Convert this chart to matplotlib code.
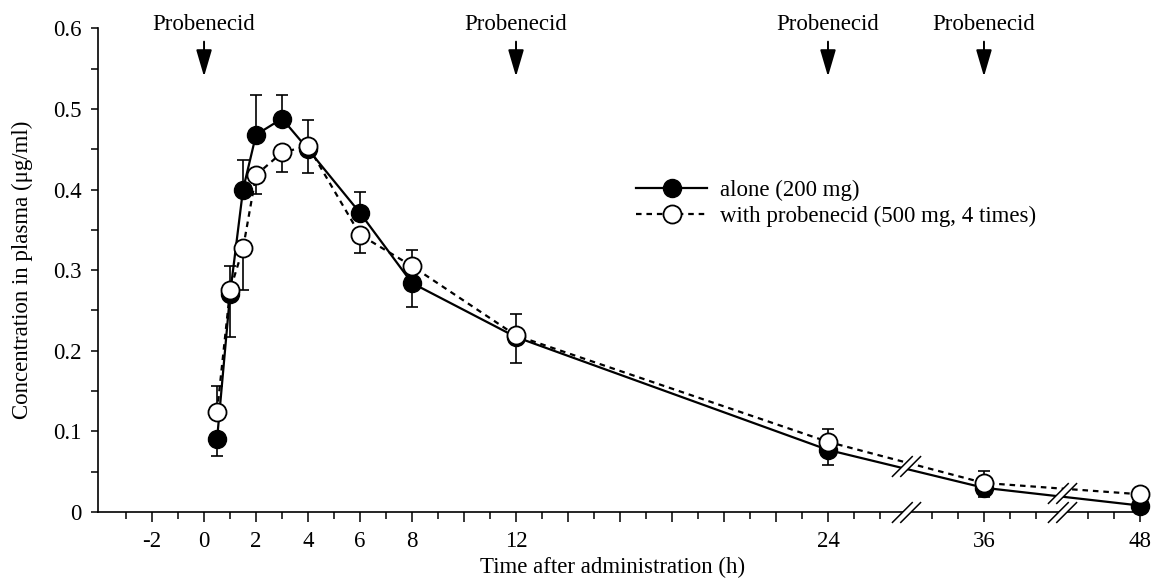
import numpy as np
import matplotlib
matplotlib.use("Agg")
import matplotlib.pyplot as plt
from matplotlib.path import Path

plt.rcParams['font.family'] = ['Liberation Serif', 'DejaVu Serif']
plt.rcParams['font.size'] = 16.5

# Data (hours after administration, concentration in ug/ml)
times = [0.5, 1, 1.5, 2, 3, 4, 6, 8, 12, 24, 36, 48]
alone = [0.090, 0.270, 0.400, 0.468, 0.488, 0.450, 0.371, 0.284, 0.217, 0.077, 0.030, 0.008]
alone_err_lo = [0.021, 0.053, 0, 0, 0, 0.030, 0, 0.030, 0.032, 0.019, 0.012, 0]
alone_err_hi = [0, 0, 0.037, 0.049, 0.029, 0, 0.026, 0, 0, 0, 0, 0]
probe = [0.124, 0.275, 0.327, 0.418, 0.446, 0.454, 0.344, 0.305, 0.219, 0.087, 0.036, 0.022]
probe_err_lo = [0, 0, 0.051, 0.023, 0.024, 0, 0.023, 0, 0, 0, 0, 0]
probe_err_hi = [0.032, 0.030, 0, 0, 0, 0.032, 0, 0.020, 0.026, 0.016, 0.015, 0]
dose_times = [0, 12, 24, 36]
labeled_ticks = [-2, 0, 2, 4, 6, 8, 12, 24, 36, 48]

# Broken time axis: 27-33 h and 39-45 h are squeezed out
HOURS_BRK = [-10, 27, 33, 39, 45, 60]
DISP_BRK = [-10, 27, 27.0001, 33.0001, 33.0002, 48.0002]
breaks = [30, 42]


def fwd(h):
    return np.interp(h, HOURS_BRK, DISP_BRK)


def inv(d):
    return np.interp(d, DISP_BRK, HOURS_BRK)


fig = plt.figure(figsize=(11.56, 5.87), dpi=100)
ax = fig.add_axes([0.0852, 0.1278, 0.9070, 0.8239])
ax.set_xscale('function', functions=(fwd, inv))

# error bars (one sided, as in the original)
for vals, lo, hi in [(alone, alone_err_lo, alone_err_hi), (probe, probe_err_lo, probe_err_hi)]:
    eb = ax.errorbar(times, vals, yerr=[lo, hi], fmt='none', ecolor='black',
                     elinewidth=1.2, capsize=4.3, capthick=1.2, zorder=2)
    for art in eb.lines[1] + eb.lines[2]:
        art.set_clip_on(False)

ax.plot(times, alone, '-', color='black', lw=1.6, marker='o', ms=13,
        mfc='black', mec='black', label='alone (200 mg)', zorder=3, clip_on=False)
ax.plot(times, probe, color='black', lw=1.6, ls=(0, (2.5, 2.2)), marker='o', ms=13,
        mfc='white', mec='black', mew=1.3,
        label='with probenecid (500 mg, 4 times)', zorder=4, clip_on=False)

ax.set_xlim(-4.06, 48.27)
ax.set_ylim(0, 0.6)

# ticks
major = [-2, 0, 2, 4, 6, 8, 10, 12, 14, 16, 18, 20, 22, 24, 36, 48]
minor = [h for h in list(range(-3, 27)) + list(range(34, 39)) + list(range(46, 49))
         if h not in major]
ax.set_xticks(major)
ax.set_xticklabels([str(h) if h in labeled_ticks else '' for h in major])
ax.set_xticks(minor, minor=True)
ax.set_yticks(np.arange(0, 0.61, 0.1))
ax.set_yticklabels(['0', '0.1', '0.2', '0.3', '0.4', '0.5', '0.6'])
ax.set_yticks(np.arange(0.05, 0.6, 0.1), minor=True)
ax.tick_params(axis='x', which='major', length=7.5, width=1.1, pad=6)
ax.tick_params(axis='x', which='minor', length=5, width=1.1)
ax.tick_params(axis='y', which='both', length=5, width=1.1, pad=7)

for s in ['top', 'right']:
    ax.spines[s].set_visible(False)
for s in ['left', 'bottom']:
    ax.spines[s].set_linewidth(1.2)

ax.set_xlabel('Time after administration (h)', fontsize=16.5)
ax.xaxis.set_label_coords(0.4907, -0.093)
ax.set_ylabel('Concentration in plasma (\u03bcg/ml)', fontsize=16.5)
ax.yaxis.set_label_coords(-0.062, 0.5)

# break marks: white strip plus two slashes
strip = Path([(-1.4, -1), (-0.6, -1), (1.4, 1), (0.6, 1), (-1.4, -1)],
             [Path.MOVETO, Path.LINETO, Path.LINETO, Path.LINETO, Path.CLOSEPOLY])
slashes = Path([(-1.4, -1), (0.6, 1), (-0.6, -1), (1.4, 1)],
               [Path.MOVETO, Path.LINETO, Path.MOVETO, Path.LINETO])
d_times = fwd(np.array(times))
for b in breaks:
    yb = (np.interp(fwd(b), d_times, alone) + np.interp(fwd(b), d_times, probe)) / 2
    for yy in [0, yb]:
        ax.plot([b], [yy], marker=strip, ms=21, mfc='white', mec='white', mew=0,
                ls='none', clip_on=False, zorder=6)
        ax.plot([b], [yy], marker=slashes, ms=21, mfc='none', mec='black', mew=1.1,
                ls='none', clip_on=False, zorder=7)

# probenecid dosing arrows
for t in dose_times:
    ax.text(t, 0.5985, 'Probenecid', ha='center', va='baseline', fontsize=16.5)
    ax.annotate('', xy=(t, 0.5402), xytext=(t, 0.5835),
                arrowprops=dict(arrowstyle='-|>,head_length=0.75,head_width=0.22',
                                color='black', lw=1.4, mutation_scale=22,
                                shrinkA=0, shrinkB=0),
                annotation_clip=False)

ax.legend(loc='upper left', bbox_to_anchor=(0.5502, 0.694), bbox_transform=fig.transFigure,
          frameon=False, fontsize=16.5, handlelength=3.1, handletextpad=0.55,
          labelspacing=0.2, borderpad=0, borderaxespad=0)

fig.savefig('out.png', dpi=100)
